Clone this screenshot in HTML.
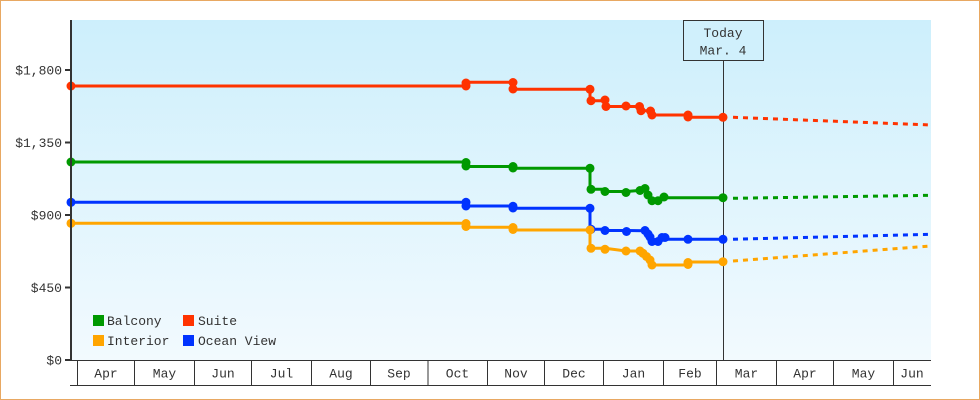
<!DOCTYPE html>
<html><head><meta charset="utf-8"><style>
html,body{margin:0;padding:0;background:#fff;}
svg{display:block;}
text{font-family:"Liberation Mono","DejaVu Sans Mono",monospace;font-size:13px;fill:#333;}
</style></head><body>
<svg width="980" height="400" viewBox="0 0 980 400" xmlns="http://www.w3.org/2000/svg">
<defs>
<linearGradient id="bg" x1="0" y1="0" x2="0" y2="1">
<stop offset="0" stop-color="#cdeffc"/>
<stop offset="1" stop-color="#f2fafe"/>
</linearGradient>
</defs>
<rect x="0.5" y="0.5" width="979" height="399" fill="#fff" stroke="#e8a862" stroke-width="1"/>
<rect x="71" y="20" width="860" height="340" fill="url(#bg)"/>

<!-- today line -->
<line x1="723.5" y1="60" x2="723.5" y2="360" stroke="#333" stroke-width="1"/>

<!-- series lines -->
<g fill="none" stroke-width="3" stroke-linejoin="miter">
<path stroke="#ff3300" d="M71,86 H466 V82.3 H513 V89.3 H590 V100.7 H605 V106.5 H640 V110.7 H651 V115 H688 V117.3 H723"/>
<path stroke="#009900" d="M71,162 H466 V166.5 H513 V168.3 H590 V189.3 H605 L605,191.5 H626 L640,190.5 L645,188.5 L648,195 L652,200.7 H658 L664,197 L666,197.7 H723"/>
<path stroke="#0033ff" d="M71,202.3 H466 V206 H513 V208.3 H590 V229.3 H605 L605,230.5 H626 L645,230.7 L650,236.7 L652,241.7 H658 L664,238.3 L666,239.3 H723"/>
<path stroke="#ffa500" d="M71,223.3 H466 V227.3 H513 V230 H590 V248.3 H605 L626,251 L640,251 L643,253.3 L647,256.7 L650,260 L652,265 H688 V262 H723"/>
</g>
<g fill="none" stroke-width="3" stroke-dasharray="5,5">
<path stroke="#ff3300" d="M733,117.3 L931,125"/>
<path stroke="#009900" d="M733,198.3 L931,195.3"/>
<path stroke="#0033ff" d="M733,239.3 L931,234.3"/>
<path stroke="#ffa500" d="M733,261 L931,246"/>
</g>

<!-- markers -->
<g fill="#ff3300">
<circle cx="71" cy="86" r="4.5"/><circle cx="466" cy="86" r="4.5"/><circle cx="466" cy="83" r="4.5"/>
<circle cx="513" cy="82.5" r="4.5"/><circle cx="513" cy="89" r="4.5"/><circle cx="590" cy="89.3" r="4.5"/>
<circle cx="591" cy="100.7" r="4.5"/><circle cx="605" cy="100" r="4.5"/><circle cx="606" cy="106.5" r="4.5"/>
<circle cx="626" cy="106" r="4.5"/><circle cx="639.5" cy="106.5" r="4.5"/><circle cx="641" cy="110.7" r="4.5"/>
<circle cx="650.5" cy="111" r="4.5"/><circle cx="652" cy="115" r="4.5"/><circle cx="688" cy="115" r="4.5"/>
<circle cx="688" cy="117" r="4.5"/><circle cx="723" cy="117.3" r="4.5"/>
</g>
<g fill="#009900">
<circle cx="71" cy="162" r="4.5"/><circle cx="466" cy="162.5" r="4.5"/><circle cx="466" cy="166" r="4.5"/>
<circle cx="513" cy="166.5" r="4.5"/><circle cx="513" cy="168" r="4.5"/><circle cx="590" cy="168.3" r="4.5"/>
<circle cx="591" cy="189.3" r="4.5"/><circle cx="605" cy="191.5" r="4.5"/><circle cx="626" cy="192.5" r="4.5"/>
<circle cx="640" cy="190.5" r="4.5"/><circle cx="645" cy="188.5" r="4.5"/><circle cx="648" cy="195" r="4.5"/>
<circle cx="652" cy="200.7" r="4.5"/><circle cx="658" cy="200.7" r="4.5"/><circle cx="664" cy="197" r="4.5"/>
<circle cx="723" cy="197.7" r="4.5"/>
</g>
<g fill="#0033ff">
<circle cx="71" cy="202.3" r="4.5"/><circle cx="466" cy="202.3" r="4.5"/><circle cx="466" cy="206" r="4.5"/>
<circle cx="513" cy="206.3" r="4.5"/><circle cx="513" cy="208" r="4.5"/><circle cx="590" cy="208.3" r="4.5"/>
<circle cx="591" cy="229.3" r="4.5"/><circle cx="605" cy="230.5" r="4.5"/><circle cx="626.5" cy="231.5" r="4.5"/>
<circle cx="645" cy="230.5" r="4.5"/><circle cx="648" cy="234" r="4.5"/><circle cx="650" cy="237" r="4.5"/>
<circle cx="652" cy="241.5" r="4.5"/><circle cx="658" cy="241.5" r="4.5"/><circle cx="662" cy="237.5" r="4.5"/>
<circle cx="665" cy="237.5" r="4.5"/><circle cx="688" cy="239.3" r="4.5"/><circle cx="723" cy="239.3" r="4.5"/>
</g>
<g fill="#ffa500">
<circle cx="71" cy="223.3" r="4.5"/><circle cx="466" cy="223.5" r="4.5"/><circle cx="466" cy="226.5" r="4.5"/>
<circle cx="513" cy="227.5" r="4.5"/><circle cx="513" cy="229.5" r="4.5"/><circle cx="590" cy="230" r="4.5"/>
<circle cx="591" cy="248.3" r="4.5"/><circle cx="605" cy="249.3" r="4.5"/><circle cx="626" cy="251" r="4.5"/>
<circle cx="640" cy="251" r="4.5"/><circle cx="643" cy="253.3" r="4.5"/><circle cx="646.5" cy="256.5" r="4.5"/>
<circle cx="650" cy="260" r="4.5"/><circle cx="652" cy="265" r="4.5"/><circle cx="688" cy="264.5" r="4.5"/>
<circle cx="688" cy="262.5" r="4.5"/><circle cx="723" cy="261.7" r="4.5"/>
</g>

<!-- y axis -->
<rect x="70" y="20" width="2" height="341" fill="#333"/>
<g fill="#333">
<rect x="65" y="69" width="6" height="2"/>
<rect x="65" y="141.5" width="6" height="2"/>
<rect x="65" y="214" width="6" height="2"/>
<rect x="65" y="286.5" width="6" height="2"/>
<rect x="65" y="359" width="6" height="2"/>
</g>
<g text-anchor="end">
<text x="62" y="74.5">$1,800</text>
<text x="62" y="147">$1,350</text>
<text x="62" y="219.5">$900</text>
<text x="62" y="292">$450</text>
<text x="62" y="364.5">$0</text>
</g>

<!-- x axis -->
<g stroke="#333" stroke-width="1" fill="none">
<line x1="70" y1="360.5" x2="931" y2="360.5"/>
<line x1="70" y1="385.5" x2="931" y2="385.5"/>
<line x1="77.5" y1="360" x2="77.5" y2="385"/>
<line x1="134.5" y1="360" x2="134.5" y2="385"/>
<line x1="194.5" y1="360" x2="194.5" y2="385"/>
<line x1="251.5" y1="360" x2="251.5" y2="385"/>
<line x1="311.5" y1="360" x2="311.5" y2="385"/>
<line x1="370.5" y1="360" x2="370.5" y2="385"/>
<line x1="428" y1="360" x2="428" y2="385"/>
<line x1="487.5" y1="360" x2="487.5" y2="385"/>
<line x1="544.5" y1="360" x2="544.5" y2="385"/>
<line x1="603.5" y1="360" x2="603.5" y2="385"/>
<line x1="663.5" y1="360" x2="663.5" y2="385"/>
<line x1="716.5" y1="360" x2="716.5" y2="385"/>
<line x1="776.5" y1="360" x2="776.5" y2="385"/>
<line x1="833.5" y1="360" x2="833.5" y2="385"/>
<line x1="893.5" y1="360" x2="893.5" y2="385"/>
</g>
<g text-anchor="middle">
<text x="106" y="377.5">Apr</text>
<text x="164.5" y="377.5">May</text>
<text x="223" y="377.5">Jun</text>
<text x="281.5" y="377.5">Jul</text>
<text x="341" y="377.5">Aug</text>
<text x="399" y="377.5">Sep</text>
<text x="457.5" y="377.5">Oct</text>
<text x="516" y="377.5">Nov</text>
<text x="574" y="377.5">Dec</text>
<text x="633.5" y="377.5">Jan</text>
<text x="690" y="377.5">Feb</text>
<text x="746.5" y="377.5">Mar</text>
<text x="805" y="377.5">Apr</text>
<text x="863.5" y="377.5">May</text>
<text x="912" y="377.5">Jun</text>
</g>

<!-- today box -->
<rect x="683.5" y="20.5" width="80" height="40" fill="#d0f0fc" stroke="#333" stroke-width="1"/>
<text x="723" y="37" text-anchor="middle">Today</text>
<text x="723" y="54.5" text-anchor="middle">Mar. 4</text>

<!-- legend -->
<rect x="93" y="315" width="11" height="11" fill="#009900"/>
<text x="107" y="325">Balcony</text>
<rect x="183" y="315" width="11" height="11" fill="#ff3300"/>
<text x="198" y="325">Suite</text>
<rect x="93" y="335" width="11" height="11" fill="#ffa500"/>
<text x="107" y="345">Interior</text>
<rect x="183" y="335" width="11" height="11" fill="#0033ff"/>
<text x="198" y="345">Ocean View</text>
</svg>
</body></html>
